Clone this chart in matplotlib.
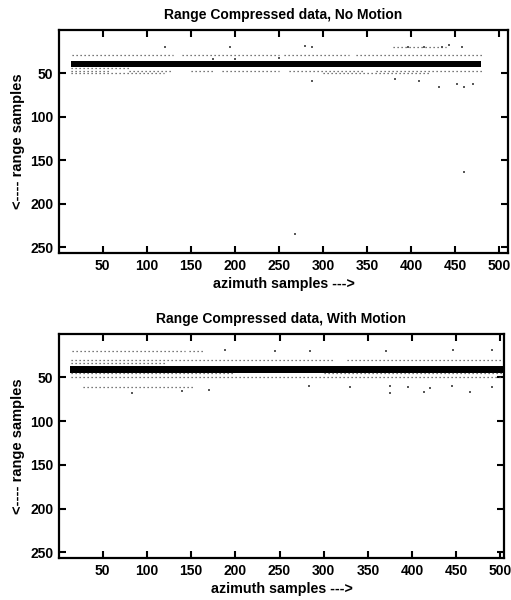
import matplotlib
matplotlib.use("Agg")
import matplotlib.pyplot as plt

plt.rcParams['font.family'] = ['Liberation Sans', 'DejaVu Sans']
plt.rcParams['font.weight'] = 'bold'

# ---------------- data (azimuth, range samples) ----------------
titles = ["Range Compressed data, No Motion", "Range Compressed data, With Motion"]
xticks = [50, 100, 150, 200, 250, 300, 350, 400, 450, 500]
yticks = [50, 100, 150, 200, 250]
xlims = [(0.5, 510), (0.5, 504)]
ylim = (256.5, 0.5)

# strong target band: (range_top, range_bottom, az_start, az_end)
band_top = (36.5, 43.5, 14, 479)
band_bot = (37.5, 44.5, 13, 504)

# speckle rows: (range, az_start, az_end)
rows_top = [
    (29, 15, 130), (29, 140, 250), (29, 256, 330), (29, 338, 480),
    (47, 14, 60), (47, 80, 128), (47, 150, 175), (47, 185, 250), (47, 262, 345),
    (47, 360, 480),
    (49.5, 14, 120), (49.5, 300, 420),
    (44.5, 14, 80),
    (19.5, 380, 440),
]
rows_bot = [
    (30.5, 14, 310), (30.5, 326, 504),
    (49.5, 14, 504),
    (45.5, 14, 200), (45.5, 300, 504),
    (19.5, 15, 143), (19.5, 148, 165),
    (61, 28, 152),
    (34, 14, 120),
]

# isolated scatterers
pts_top_az = [121, 194, 280, 288, 396, 415, 435, 443, 458, 288, 382, 409, 432, 452, 460, 470, 268, 460, 175, 200, 250]
pts_top_rg = [19.5, 20, 18.5, 20, 20, 20, 20, 17.5, 20, 59, 57, 59, 66.5, 62, 66, 63, 235, 163, 34, 34, 33]
pts_bot_az = [188, 245, 285, 370, 446, 490, 283, 330, 375, 395, 420, 445, 490, 83, 375, 414, 466, 140, 170]
pts_bot_rg = [19, 20, 20, 20, 19, 19, 60, 61, 60, 61, 62, 60, 61, 68, 68, 67, 67, 66, 64]

panels = [
    (titles[0], band_top, rows_top, pts_top_az, pts_top_rg, xlims[0]),
    (titles[1], band_bot, rows_bot, pts_bot_az, pts_bot_rg, xlims[1]),
]

fig = plt.figure(figsize=(5.11, 6.0), dpi=100)
W, H = 511.0, 600.0
rects = [(59, 30, 508, 253), (59, 334, 504, 558)]

for (title, band, rows, paz, prg, xl), (l, t, r, b) in zip(panels, rects):
    ax = fig.add_axes([l / W, 1 - b / H, (r - l) / W, (b - t) / H])
    r0, r1, a0, a1 = band
    ax.fill_between([a0, a1], r0, r1, color='black', linewidth=0)
    for rg, s, e in rows:
        ax.hlines(rg, s, e, colors='0.3', linewidth=0.9, linestyles=(0, (1, 2.2)))
    ax.scatter(paz, prg, s=1.0, marker='s', c='0.35', linewidths=0)
    ax.set_xlim(*xl)
    ax.set_ylim(*ylim)
    ax.set_xticks(xticks)
    ax.set_yticks(yticks)
    ax.tick_params(direction='in', top=True, right=True, length=5, width=1.5,
                   labelsize=10, pad=4)
    for lab in ax.get_xticklabels() + ax.get_yticklabels():
        lab.set_fontweight('bold')
    for sp in ax.spines.values():
        sp.set_linewidth(1.6)
    ax.set_title(title, fontsize=10, fontweight='bold', pad=8)
    ax.set_xlabel('azimuth samples --->', fontsize=10.3, fontweight='bold', labelpad=3)
    ax.set_ylabel('<---- range samples', fontsize=10.5, fontweight='bold', labelpad=4)

fig.savefig('out.png', dpi=100)
